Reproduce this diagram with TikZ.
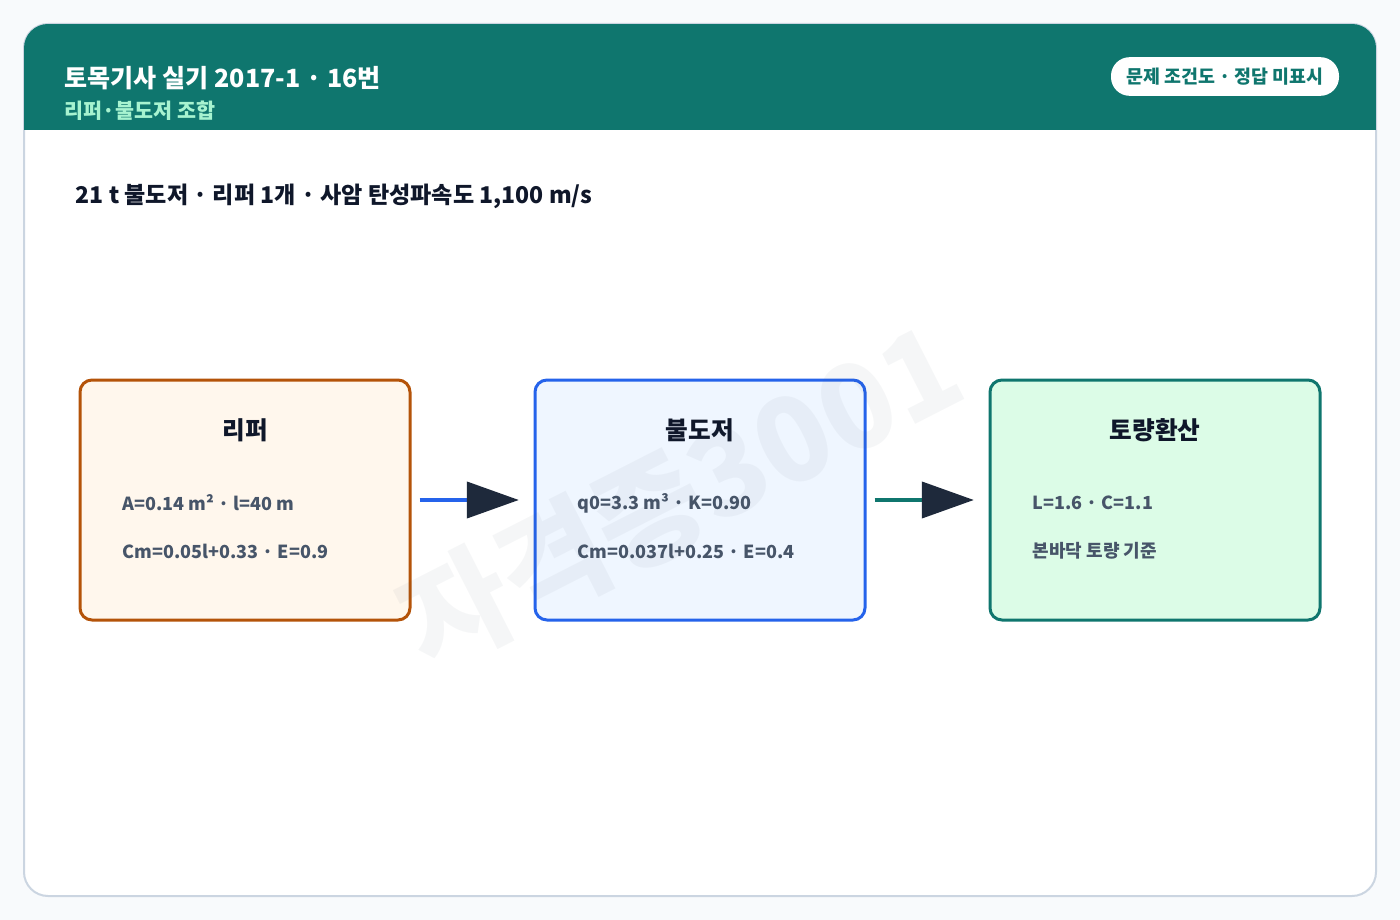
\documentclass[tikz,border=0pt]{standalone}
\usepackage{fontspec}
\setmainfont{Noto Sans CJK KR}
\usetikzlibrary{arrows.meta}
\definecolor{pagebg}{HTML}{F8FAFC}
\definecolor{cardln}{HTML}{CBD5E1}
\definecolor{teal}{HTML}{0F766E}
\definecolor{subg}{HTML}{A7F3D0}
\definecolor{ink}{HTML}{0F172A}
\definecolor{navy}{HTML}{1E293B}
\definecolor{txt}{HTML}{475569}
\definecolor{orl}{HTML}{B45309}\definecolor{orf}{HTML}{FFF7ED}
\definecolor{bll}{HTML}{2563EB}\definecolor{blf}{HTML}{EFF6FF}
\definecolor{grl}{HTML}{0F766E}\definecolor{grf}{HTML}{DCFCE7}
\begin{document}
\begin{tikzpicture}[x=0.75pt,y=-0.75pt,
 box/.style={draw=#1,line width=2.25pt,rounded corners=9pt,minimum width=247.5pt,minimum height=180pt,inner sep=0pt},
 btitle/.style={font=\bfseries\fontsize{18.5}{20}\selectfont,text=ink},
 bline/.style={font=\bfseries\fontsize{13.5}{15}\selectfont,text=txt,anchor=west},
 conn/.style={line width=3pt,shorten <=6pt,shorten >=11pt,-{Triangle[length=39pt,width=27pt,color=navy,fill=navy]}}]
\fill[pagebg] (0,0) rectangle (1400,920);
\useasboundingbox (0,0) rectangle (1400,920);
\path[fill=white,draw=cardln,line width=1.5pt,rounded corners=18pt] (24,24) rectangle (1376,896);
\begin{scope}
\clip[rounded corners=18pt] (24,24) rectangle (1376,896);
\fill[teal] (24,24) rectangle (1376,130);
\end{scope}
\node[anchor=west,text=white,font=\bfseries\fontsize{18.8}{20}\selectfont] (t) at (60,78) {토목기사 실기 2017-1 · 16번};
\node[anchor=west,text=subg,font=\bfseries\fontsize{15.5}{17}\selectfont] (st) at (60,111) {리퍼·불도저 조합};
\node[fill=white,rounded corners=14pt,minimum width=171pt,minimum height=29pt,text=teal,font=\bfseries\fontsize{13.8}{15}\selectfont] (badge) at (1225,76.5) {문제 조건도 · 정답 미표시};
\node[anchor=west,text=ink,font=\bfseries\fontsize{17.3}{18}\selectfont] (h) at (71,196) {21 t 불도저 · 리퍼 1개 · 사암 탄성파속도 1,100 m/s};
\node[box=orl,fill=orf] (a) at (245,500) {};
\node[box=bll,fill=blf] (b) at (700,500) {};
\node[box=grl,fill=grf] (c) at (1155,500) {};
\node[btitle] (at) at (245,430) {리퍼};
\node[btitle] (bt) at (700,430) {불도저};
\node[btitle] (ct) at (1155,430) {토량환산};
\node[bline] (a1) at (118,503) {A=0.14 m² · l=40 m};
\node[bline] (a2) at (118,551) {Cm=0.05l+0.33 · E=0.9};
\node[bline] (b1) at (573,503) {q0=3.3 m³ · K=0.90};
\node[bline] (b2) at (573,551) {Cm=0.037l+0.25 · E=0.4};
\node[bline] (c1) at (1028,503) {L=1.6 · C=1.1};
\node[bline] (c2) at (1028,551) {본바닥 토량 기준};
\draw[conn,bll] (a.east) -- (b.west);
\draw[conn,grl] (b.east) -- (c.west);
\node[rotate=27,text=txt,opacity=0.05,font=\bfseries\fontsize{88}{90}\selectfont] (wm) at (680,495) {자격증3001};
\end{tikzpicture}
\end{document}
